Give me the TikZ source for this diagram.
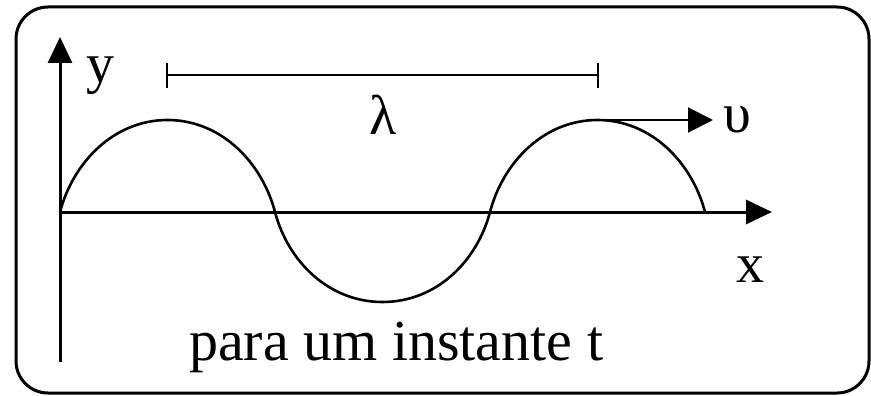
\documentclass[tikz,border=0pt]{standalone}
\usepackage{fontspec}
\setmainfont{Liberation Serif}
\usetikzlibrary{arrows.meta}
\tikzset{
  frame/.style={line width=3pt, rounded corners=32pt},
  axis/.style={line width=3pt, -{Triangle[length=26pt,width=24pt]}},
  wave/.style={line width=2.6pt},
  vel/.style={line width=2pt, -{Triangle[length=25pt,width=25pt]}},
  barline/.style={line width=2.2pt},
  lbl/.style={inner sep=0pt, font=\fontsize{56}{60}\selectfont},
  biglbl/.style={inner sep=0pt, font=\fontsize{58}{62}\selectfont},
}
\begin{document}
\begin{tikzpicture}[x=1pt, y=-1pt]
\useasboundingbox (0,0) rectangle (871,396);
\fill[white] (0,0) rectangle (871,396);
\draw[frame] (16,7) rectangle (869,393);
% axes
\coordinate (O) at (60,212);
\coordinate (ybot) at (60,362);
\coordinate (ytop) at (60,37);
\coordinate (xend) at (772,212);
\draw[axis] (ybot) -- (ytop);
\draw[axis] (O) -- (xend);
% wave
\draw[wave] (60,212)
  .. controls (73,162.5) and (113.75,120) .. (167.5,120)
  .. controls (221.25,120) and (262,162.5) .. (275,212)
  .. controls (288,261.5) and (328.75,302) .. (382.5,302)
  .. controls (436.25,302) and (477,261.5) .. (490,212)
  .. controls (503,162.5) and (543.75,120) .. (597.5,120)
  .. controls (651.25,120) and (692,162.5) .. (705,212);
% wavelength bar
\coordinate (l1) at (167,75);
\coordinate (l2) at (598,75);
\coordinate (l1a) at (167,63);
\coordinate (l1b) at (167,88);
\coordinate (l2a) at (598,63);
\coordinate (l2b) at (598,88);
\draw[barline] (l1) -- (l2);
\draw[barline] (l1a) -- (l1b);
\draw[barline] (l2a) -- (l2b);
% velocity
\coordinate (peak) at (597,120);
\coordinate (vtip) at (713,120);
\draw[vel] (peak) -- (vtip);
% labels
\node[lbl, anchor=base west] (ylab) at (86,83) {y};
\node[lbl, anchor=base west] (xlab) at (736,282) {x};
\node[lbl, anchor=base] (lam) at (383,135) {λ};
\node[lbl, anchor=base west] (ups) at (723,132) {υ};
\node[biglbl, anchor=base west] (txt) at (189,360) {para um instante t};
\end{tikzpicture}
\end{document}
